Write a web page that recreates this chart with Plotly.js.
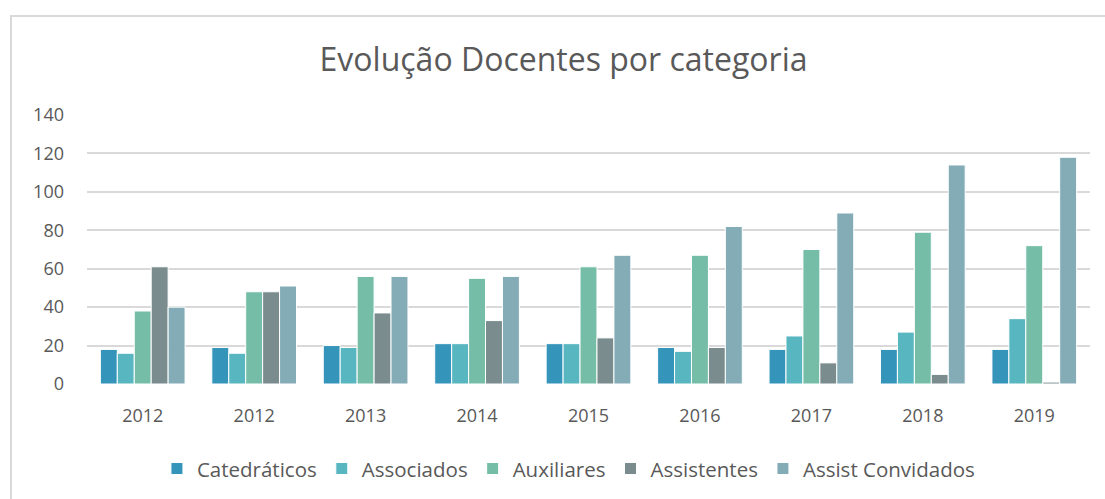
<!DOCTYPE html>
<html>
<head>
<meta charset="utf-8">
<script src="https://cdn.plot.ly/plotly-3.0.1.min.js"></script>
<style>
html,body{margin:0;padding:0;background:#fff;}
#wrap{position:relative;width:1105px;height:499px;}
#chart{width:1105px;height:499px;}
#frame{position:absolute;left:10px;top:15px;width:1100px;height:490px;border-left:2px solid #d9d9d9;border-top:2px solid #d9d9d9;pointer-events:none;}
</style>
</head>
<body>
<div id="wrap"><div id="chart"></div><div id="frame"></div></div>
<script>
const categories = ["2012", "2012", "2013", "2014", "2015", "2016", "2017", "2018", "2019"];
const catedraticos = [18, 19, 20, 21, 21, 19, 18, 18, 18];
const associados = [16, 16, 19, 21, 21, 17, 25, 27, 34];
const auxiliares = [38, 48, 56, 55, 61, 67, 70, 79, 72];
const assistentes = [61, 48, 37, 33, 24, 19, 11, 5, 1];
const assistConvidados = [40, 51, 56, 56, 67, 82, 89, 114, 118];
const yTicks = [0, 20, 40, 60, 80, 100, 120, 140];

const idx = categories.map((c, i) => i);
const seriesDefs = [
  ["Catedráticos", catedraticos, "#3494BA"],
  ["Associados", associados, "#58B6C0"],
  ["Auxiliares", auxiliares, "#75BDA7"],
  ["Assistentes", assistentes, "#7A8C8E"],
  ["Assist Convidados", assistConvidados, "#84ACB6"]
];
const font = "'Open Sans', 'Noto Sans', sans-serif";
const data = seriesDefs.map(([name, vals, color]) => ({
  type: "bar", name: name, x: idx, y: vals,
  marker: {color: color, line: {color: "#ffffff", width: 1}},
  hoverinfo: "none"
}));
const layout = {
  width: 1105, height: 499,
  margin: {l: 87, r: 15, t: 115, b: 114},
  paper_bgcolor: "#ffffff", plot_bgcolor: "#ffffff",
  barmode: "group", bargap: 0.24, bargroupgap: 0.0,
  title: {text: "Evolução Docentes por categoria", font: {family: font, size: 32, color: "#595959"},
          x: 0.51, xanchor: "center", y: 0.88, yanchor: "middle"},
  xaxis: {tickmode: "array", tickvals: idx, ticktext: categories, range: [-0.5, categories.length - 0.5],
          showgrid: false, zeroline: false, showline: false, ticks: "", ticklabelstandoff: 19,
          tickfont: {family: font, size: 18, color: "#595959"}},
  yaxis: {range: [0, 140], tickmode: "array", tickvals: yTicks, ticktext: yTicks.map(String),
          showgrid: true, gridcolor: "#d9d9d9", gridwidth: 2, zeroline: false, showline: false,
          ticks: "", ticklabelstandoff: 22,
          tickfont: {family: font, size: 18, color: "#595959"}},
  showlegend: true,
  legend: {orientation: "h", x: 0.48, xanchor: "center", y: -0.31, yanchor: "middle",
           font: {family: font, size: 20.5, color: "#595959"}, itemwidth: 30, traceorder: "normal"}
};
Plotly.newPlot("chart", data, layout, {displayModeBar: false, staticPlot: true});
</script>
</body>
</html>
